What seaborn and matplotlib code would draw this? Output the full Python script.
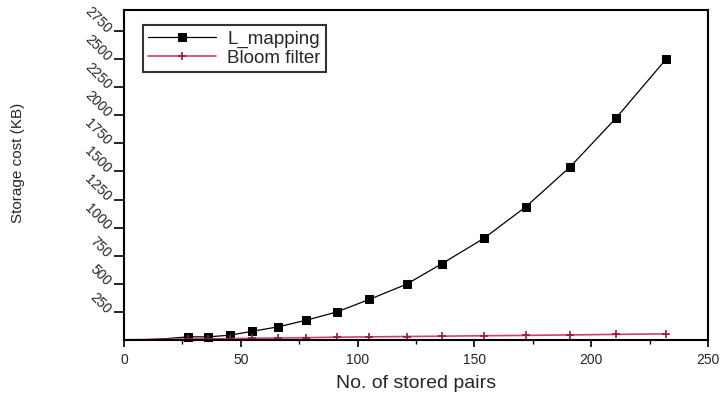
import matplotlib
matplotlib.use("Agg")
import matplotlib.pyplot as plt
import seaborn as sns
import numpy as np
from matplotlib.ticker import MultipleLocator

# ---- data ----
pairs = [0, 9, 18, 27.5, 36, 45.4, 55, 66, 78, 91, 105, 121, 136, 154, 172, 191, 210.5, 232]
l_mapping = [0, 3, 12, 28, 28, 43, 78, 117, 176, 249, 361, 497, 678, 904, 1185, 1541, 1972, 2498]
bloom = [2, 4, 6, 8, 10, 12, 15, 18, 21, 25, 28, 31, 34, 38, 41, 45, 50, 55]
x_ticks = [0, 50, 100, 150, 200, 250]
y_ticks = [250, 500, 750, 1000, 1250, 1500, 1750, 2000, 2250, 2500, 2750]
series_names = ["L_mapping", "Bloom filter"]

sns.set_style("ticks")
plt.rcParams["font.family"] = ["Liberation Sans", "DejaVu Sans"]

fig = plt.figure(figsize=(7.22, 3.94), dpi=100)
ax = fig.add_axes([124 / 722, 1 - 340 / 394, 584 / 722, 330 / 394])

sns.lineplot(x=pairs, y=l_mapping, ax=ax, color="black", marker="s",
             markersize=6, markeredgecolor="black", linewidth=0.9,
             markevery=list(range(3, len(pairs))),
             label=series_names[0], clip_on=False)
sns.lineplot(x=pairs, y=bloom, ax=ax, color="#d0406e", marker="+",
             markersize=6, markeredgecolor="#9a1840", markeredgewidth=1.2,
             markevery=list(range(3, len(pairs))),
             linewidth=1.2, label=series_names[1], clip_on=True)

ax.set_xlim(0, 250)
ax.set_ylim(0, 2937)
ax.set_xticks(x_ticks)
ax.set_xticklabels([str(v) for v in x_ticks], fontsize=10)
ax.xaxis.set_minor_locator(MultipleLocator(25))
ax.set_yticks(y_ticks)
ax.set_yticklabels([str(v) for v in y_ticks], fontsize=10, rotation=-45,
                   ha="right", va="center", rotation_mode="anchor")

ax.tick_params(axis="x", which="major", direction="out", length=5, width=1.2, color="black", pad=4)
ax.tick_params(axis="x", which="minor", direction="out", length=3, width=1.0, color="black")
ax.tick_params(axis="y", which="major", direction="out", length=7, width=1.2, color="black", pad=4)

for s in ax.spines.values():
    s.set_visible(True)
    s.set_color("black")
    s.set_linewidth(1.5)

ax.set_xlabel("No. of stored pairs", fontsize=14, labelpad=6)
ax.set_ylabel("Storage cost (KB)", fontsize=11)
ax.yaxis.set_label_coords(-0.17, 0.536)

leg = ax.legend(loc="upper left", bbox_to_anchor=(0.032, 0.955), borderaxespad=0,
                fontsize=13.5, frameon=True, fancybox=False, handlelength=3.6,
                handletextpad=0.6, borderpad=0.3, labelspacing=0.1)
leg.get_frame().set_edgecolor("black")
leg.get_frame().set_linewidth(1.5)

fig.savefig("out.png", dpi=100, facecolor="white")
